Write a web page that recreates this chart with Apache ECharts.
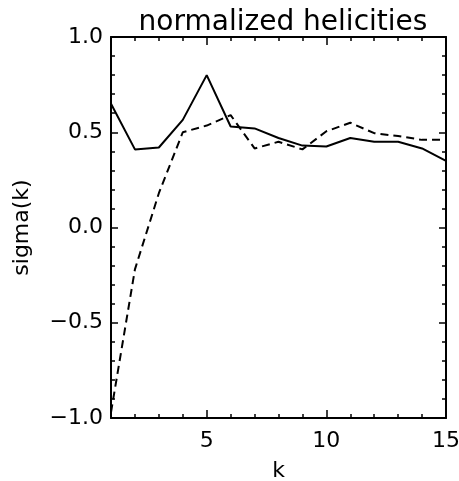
<!DOCTYPE html>
<html>
<head>
<meta charset="utf-8">
<script src="https://cdn.jsdelivr.net/npm/echarts@6/dist/echarts.min.js"></script>
<style>html,body{margin:0;padding:0;background:#fff}#c{width:459px;height:481px}</style>
</head>
<body>
<div id="c"></div>
<script>
const ks = [1, 2, 3, 4, 5, 6, 7, 8, 9, 10, 11, 12, 13, 14, 15];
const solidValues = [0.65, 0.41, 0.42, 0.565, 0.80, 0.53, 0.52, 0.47, 0.43, 0.425, 0.47, 0.45, 0.45, 0.415, 0.35];
const dashedValues = [-0.97, -0.22, 0.18, 0.50, 0.535, 0.59, 0.415, 0.45, 0.41, 0.505, 0.55, 0.495, 0.48, 0.46, 0.46];
const xMajorTicks = [5, 10, 15];
const titleText = 'normalized helicities';
const xName = 'k';
const yName = 'sigma(k)';

const FONT = 'DejaVu Sans';
const pairs = vals => ks.map((k, i) => [k, vals[i]]);

const chart = echarts.init(document.getElementById('c'), null, {renderer: 'canvas'});
const baseX = {
  type: 'value', min: 1, max: 15, splitLine: {show: false}
};
chart.setOption({
  animation: false,
  backgroundColor: '#fff',
  title: {
    text: titleText, left: 278, top: 4, textAlign: 'center',
    textStyle: {fontFamily: FONT, fontSize: 28, fontWeight: 'normal', color: '#000'}
  },
  grid: {left: 111, right: 13, top: 37, bottom: 63, containLabel: false, outerBoundsMode: 'none'},
  xAxis: [
    Object.assign({}, baseX, {
      position: 'bottom',
      name: xName, nameLocation: 'middle', nameGap: 42,
      nameTextStyle: {fontFamily: FONT, fontSize: 22, color: '#000'},
      axisLine: {show: true, onZero: false, lineStyle: {color: '#000', width: 2}},
      axisTick: {show: true, inside: true, length: 8, customValues: xMajorTicks, lineStyle: {color: '#000', width: 1.5}},
      axisLabel: {show: true, customValues: xMajorTicks, margin: 12, fontFamily: FONT, fontSize: 22, color: '#000'}
    }),
    Object.assign({}, baseX, {
      position: 'bottom', interval: 1,
      axisLine: {show: false, onZero: false},
      axisTick: {show: true, inside: true, length: 4, lineStyle: {color: '#000', width: 1.5}},
      axisLabel: {show: false}
    }),
    Object.assign({}, baseX, {
      position: 'top',
      axisLine: {show: true, onZero: false, lineStyle: {color: '#000', width: 2}},
      axisTick: {show: true, inside: true, length: 8, customValues: xMajorTicks, lineStyle: {color: '#000', width: 1.5}},
      axisLabel: {show: false}
    }),
    Object.assign({}, baseX, {
      position: 'top', interval: 1,
      axisLine: {show: false, onZero: false},
      axisTick: {show: true, inside: true, length: 4, lineStyle: {color: '#000', width: 1.5}},
      axisLabel: {show: false}
    })
  ],
  yAxis: [
    {
      type: 'value', min: -1, max: 1, interval: 0.5, position: 'left',
      name: yName, nameLocation: 'middle', nameGap: 78, nameRotate: 90,
      nameTextStyle: {fontFamily: FONT, fontSize: 22, color: '#000'},
      splitLine: {show: false},
      axisLine: {show: true, onZero: false, lineStyle: {color: '#000', width: 2}},
      axisTick: {show: true, inside: true, length: 7, lineStyle: {color: '#000', width: 1.5}},
      minorTick: {show: true, splitNumber: 5, length: 4, lineStyle: {color: '#000', width: 1.5}},
      axisLabel: {margin: 8, fontFamily: FONT, fontSize: 22, color: '#000',
        formatter: v => (v < 0 ? '\u2212' : '') + Math.abs(v).toFixed(1)}
    },
    {
      type: 'value', min: -1, max: 1, interval: 0.5, position: 'right',
      splitLine: {show: false},
      axisLine: {show: true, onZero: false, lineStyle: {color: '#000', width: 2}},
      axisTick: {show: true, inside: true, length: 7, lineStyle: {color: '#000', width: 1.5}},
      minorTick: {show: true, splitNumber: 5, length: 4, lineStyle: {color: '#000', width: 1.5}},
      axisLabel: {show: false}
    }
  ],
  series: [
    {
      type: 'line', xAxisIndex: 0, yAxisIndex: 0, data: pairs(solidValues),
      symbol: 'none', lineStyle: {color: '#000', width: 2}
    },
    {
      type: 'line', xAxisIndex: 0, yAxisIndex: 0, data: pairs(dashedValues),
      symbol: 'none', lineStyle: {color: '#000', width: 2, type: [8, 5]}
    }
  ]
});
</script>
</body>
</html>
